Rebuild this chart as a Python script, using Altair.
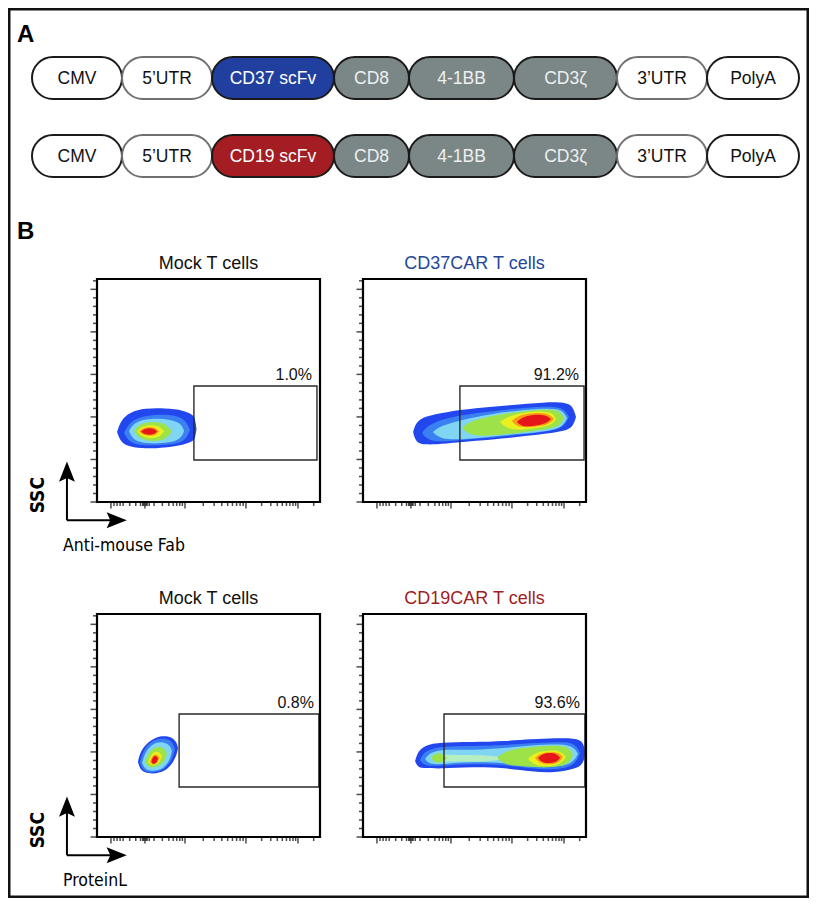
import altair as alt
import pandas as pd

FONT = "Liberation Sans"
NARROW = "Liberation Sans Narrow, DejaVu Sans Condensed, sans-serif"

# ---------------- Panel A : CAR constructs ----------------
CONSTRUCTS = ["CD37", "CD19"]
SEG_LABELS = {
    "CD37": ["CMV", "5’UTR", "CD37 scFv", "CD8", "4-1BB", "CD3ζ", "3’UTR", "PolyA"],
    "CD19": ["CMV", "5’UTR", "CD19 scFv", "CD8", "4-1BB", "CD3ζ", "3’UTR", "PolyA"],
}
SEG_KINDS = {
    "CD37": ["element", "utr", "cd37", "domain", "domain", "domain", "utr", "element"],
    "CD19": ["element", "utr", "cd19", "domain", "domain", "domain", "utr", "element"],
}
SEG_LENGTHS = [90, 90, 122, 75, 105, 103, 90, 92]

KIND_DOMAIN = ["element", "utr", "cd37", "cd19", "domain"]
KIND_FILL = ["#ffffff", "#ffffff", "#213f9e", "#a31d23", "#7b8686"]
KIND_STROKE = ["#1a1a1a", "#707070", "#1a1a1a", "#1a1a1a", "#1a1a1a"]
KIND_TEXT = ["#111111", "#111111", "#ffffff", "#ffffff", "#eef0f0"]

# ---------------- Panel B : flow plots ----------------
X_MAJOR = [64, 220, 404, 684, 923]
X_MINOR = [78, 92, 106, 120, 150, 178, 200, 210, 215, 225, 230, 240, 262, 300, 330,
           350, 366, 380, 392, 488, 538, 573, 600, 622, 641, 657, 671, 756, 798, 828,
           851, 870, 886, 900, 912, 995]
Y_MAJOR = [0, 50, 100, 150, 200, 250]
Y_MINOR = [10, 20, 30, 40, 60, 70, 80, 90, 110, 120, 130, 140, 160, 170, 180, 190,
           210, 220, 230, 240, 260]

LEVEL_ORDER = ["L1", "L2", "L3", "L3b", "L4", "L4r", "L5", "L6", "L7"]
LEVEL_COLORS = {"L1": "#2247ee", "L2": "#3a80f2", "L3": "#7fd5f2", "L3b": "#b5eec0",
                "L4": "#9ee24a", "L4r": "#9ee24a", "L5": "#eaf01e", "L6": "#fb9a16",
                "L7": "#e5161a"}

# density contour bands: (channel, SSC-low [K], SSC-high [K])
BLOB_MOCK_FAB = {
    "L1": [(92, 82.3, 82.3), (110, 69.5, 96.2), (152, 64.8, 105.6), (220, 62.5, 110.3),
           (312, 63.7, 110.3), (400, 67.2, 108.0), (441, 71.9, 102.1), (450, 74.2, 98.6),
           (457, 85.8, 85.8)],
    "L2": [(124, 81.1, 81.1), (152, 68.4, 95.0), (220, 66.0, 102.1), (335, 67.2, 103.3),
           (404, 70.7, 98.6), (427, 84.6, 84.6)],
    "L3": [(147, 83.5, 83.5), (170, 70.7, 93.9), (243, 68.4, 98.6), (335, 69.5, 97.4),
           (386, 74.2, 92.7), (400, 83.5, 83.5)],
    "L4": [(170, 83.5, 83.5), (193, 74.2, 91.5), (253, 70.7, 95.0), (317, 73.0, 92.7),
           (344, 82.9, 82.9)],
    "L5": [(184, 82.9, 82.9), (207, 76.6, 89.2), (248, 74.2, 90.9), (289, 76.6, 89.2),
           (308, 82.9, 82.9)],
    "L6": [(193, 82.9, 82.9), (211, 78.5, 87.3), (243, 77.5, 88.3), (271, 78.5, 87.3),
           (285, 82.9, 82.9)],
    "L7": [(202, 82.9, 82.9), (220, 79.5, 86.3), (243, 79.0, 86.8), (262, 79.5, 86.3),
           (276, 82.9, 82.9)],
}
BLOB_CD37 = {
    "L1": [(230, 82.3, 82.3), (243, 69.5, 93.9), (285, 67.2, 100.9), (377, 68.4, 105.6),
           (514, 71.9, 110.3), (675, 75.4, 113.8), (836, 80.1, 117.4), (928, 83.6, 117.4),
           (964, 88.3, 112.7), (978, 99.9, 99.9)],
    "L2": [(271, 81.1, 81.1), (298, 71.9, 90.3), (377, 70.7, 98.6), (514, 74.2, 104.4),
           (675, 77.8, 109.1), (836, 82.5, 112.7), (918, 86.0, 111.5), (946, 99.9, 99.9)],
    "L3": [(321, 82.3, 82.3), (354, 74.2, 89.2), (445, 73.1, 96.2), (583, 76.6, 103.3),
           (721, 80.1, 108.0), (859, 83.6, 110.3), (918, 88.3, 108.0), (937, 98.7, 98.7)],
    "L4": [(455, 87.0, 87.0), (491, 77.8, 95.0), (583, 77.8, 100.9), (721, 81.3, 106.8),
           (859, 86.0, 109.1), (905, 89.5, 106.8), (923, 98.7, 98.7)],
    "L5": [(629, 94.0, 94.0), (666, 84.8, 100.9), (744, 84.8, 105.6), (836, 88.3, 106.8),
           (872, 91.9, 104.4), (886, 97.6, 97.6)],
    "L6": [(684, 95.2, 95.2), (712, 87.2, 102.1), (790, 88.3, 105.0), (850, 90.7, 104.4),
           (877, 97.6, 97.6)],
    "L7": [(707, 94.0, 94.0), (730, 88.3, 99.7), (790, 89.5, 103.3), (840, 91.9, 102.1),
           (863, 97.6, 97.6)],
}
BLOB_MOCK_PL = {
    "L1": [(188, 88.2, 88.2), (197, 80.1, 98.6), (220, 75.4, 108.0), (253, 74.2, 115.0),
           (289, 75.4, 118.6), (326, 80.1, 118.6), (354, 89.5, 115.0), (367, 97.7, 110.3),
           (372, 104.6, 104.6)],
    "L2": [(197, 87.6, 87.6), (211, 77.8, 100.9), (243, 75.4, 111.5), (280, 76.6, 115.6),
           (317, 81.3, 115.6), (344, 90.7, 112.7), (358, 103.4, 103.4)],
    "L3": [(207, 87.0, 87.0), (220, 80.1, 98.6), (243, 77.8, 106.8), (276, 77.8, 111.5),
           (308, 81.3, 111.5), (335, 90.7, 108.0), (344, 101.1, 101.1)],
    "L4": [(220, 88.2, 88.2), (234, 82.5, 98.6), (257, 81.3, 104.4), (289, 83.6, 106.8),
           (312, 89.5, 103.3), (321, 97.6, 97.6)],
    "L5": [(234, 88.2, 88.2), (248, 83.6, 97.4), (271, 84.8, 100.9), (289, 88.3, 99.7),
           (298, 95.2, 95.2)],
    "L6": [(243, 88.2, 88.2), (253, 84.8, 95.0), (266, 85.4, 97.4), (280, 88.3, 96.2),
           (287, 92.9, 92.9)],
    "L7": [(250, 88.8, 88.8), (257, 85.4, 93.9), (266, 86.0, 95.6), (276, 88.3, 94.5),
           (280, 91.7, 91.7)],
}
BLOB_CD19 = {
    "L1": [(239, 89.3, 89.3), (253, 81.3, 100.9), (285, 81.3, 108.0), (354, 80.1, 111.5),
           (501, 82.5, 111.5), (652, 81.3, 112.7), (776, 76.6, 115.0), (882, 75.4, 116.2),
           (974, 80.1, 116.2), (1010, 84.8, 112.7), (1022, 98.7, 98.7)],
    "L2": [(262, 90.5, 90.5), (280, 83.6, 100.9), (354, 83.6, 106.8), (501, 86.0, 106.8),
           (652, 84.8, 108.0), (776, 80.1, 110.3), (882, 78.9, 111.5), (974, 83.6, 111.5),
           (996, 98.7, 98.7)],
    "L3": [(285, 91.7, 91.7), (308, 84.8, 99.7), (377, 86.0, 103.3), (501, 88.3, 102.1),
           (652, 87.2, 104.4), (776, 83.6, 108.0), (882, 82.5, 109.1), (964, 86.0, 108.0),
           (987, 97.6, 97.6)],
    "L3b": [(308, 92.9, 92.9), (340, 88.3, 97.4), (445, 88.9, 96.2), (583, 88.3, 96.2),
            (675, 92.9, 92.9)],
    "L4": [(312, 92.9, 92.9), (331, 87.2, 98.6), (363, 87.2, 98.6), (386, 92.9, 92.9)],
    "L4r": [(615, 92.9, 92.9), (652, 84.8, 100.9), (721, 83.6, 104.4), (813, 81.3, 106.8),
            (905, 82.5, 108.0), (951, 87.2, 104.4), (964, 96.4, 96.4)],
    "L5": [(758, 91.7, 91.7), (790, 83.6, 99.7), (859, 82.5, 102.1), (909, 86.0, 100.9),
           (932, 94.0, 94.0)],
    "L6": [(790, 92.9, 92.9), (813, 86.0, 98.6), (868, 84.8, 100.3), (905, 88.3, 98.6),
           (918, 94.0, 94.0)],
    "L7": [(804, 92.9, 92.9), (822, 87.2, 97.4), (859, 86.6, 99.2), (891, 88.3, 97.4),
           (905, 92.9, 92.9)],
}

# gates: (x1, x2, SSC low, SSC high)
GATE_MOCK_FAB = (445, 1010, 49.4, 136.4)
GATE_CD37 = (445, 1015, 49.4, 136.4)
GATE_MOCK_PL = (377, 1019, 58.8, 144.6)
GATE_CD19 = (372, 1019, 58.8, 144.6)

PANELS = [
    dict(title="Mock T cells", tkind="mock", blob=BLOB_MOCK_FAB, gate=GATE_MOCK_FAB,
         pct="1.0%", col=0, row=0, xlabel="Anti-mouse Fab"),
    dict(title="CD37CAR T cells", tkind="cd37", blob=BLOB_CD37, gate=GATE_CD37,
         pct="91.2%", col=1, row=0, xlabel=None),
    dict(title="Mock T cells", tkind="mock", blob=BLOB_MOCK_PL, gate=GATE_MOCK_PL,
         pct="0.8%", col=0, row=1, xlabel="ProteinL"),
    dict(title="CD19CAR T cells", tkind="cd19", blob=BLOB_CD19, gate=GATE_CD19,
         pct="93.6%", col=1, row=1, xlabel=None),
]

# ---------------- layout / style ----------------
COL_X = [[89, 312], [355, 578]]
ROW_Y = [[494, 271], [829, 606]]
TITLE_COLORS = {"mock": "#111111", "cd37": "#24479c", "cd19": "#a11d24"}
UP_PATH = "M0,-1L0.75,0.9L0,0.55L-0.75,0.9Z"
RIGHT_PATH = "M1,0L-0.9,0.75L-0.55,0L-0.9,-0.75Z"


def panel_a():
    rows = []
    for c in CONSTRUCTS:
        start = 0
        for lab, kind, ln in zip(SEG_LABELS[c], SEG_KINDS[c], SEG_LENGTHS):
            rows.append(dict(construct=c, label=lab, kind=kind, start=start,
                             end=start + ln, mid=start + ln / 2))
            start += ln
    df = pd.DataFrame(rows)
    xa = alt.Scale(domain=[0, sum(SEG_LENGTHS)], range=[24, 791], nice=False, zero=False)
    ya = alt.Scale(domain=CONSTRUCTS, range=[49, 169], paddingInner=0.4615, paddingOuter=0)
    pills = alt.Chart(df).mark_rect(cornerRadius=21, strokeWidth=2).encode(
        x=alt.X("start:Q", scale=xa, axis=None), x2="end:Q",
        y=alt.Y("construct:N", scale=ya, axis=None),
        fill=alt.Fill("kind:N", scale=alt.Scale(domain=KIND_DOMAIN, range=KIND_FILL), legend=None),
        stroke=alt.Stroke("kind:N", scale=alt.Scale(domain=KIND_DOMAIN, range=KIND_STROKE), legend=None),
    )
    labels = alt.Chart(df).mark_text(fontSize=17.5, font=FONT, baseline="middle", dy=1).encode(
        x=alt.X("mid:Q", scale=xa, axis=None),
        y=alt.Y("construct:N", scale=ya, axis=None),
        text="label:N",
        color=alt.Color("kind:N", scale=alt.Scale(domain=KIND_DOMAIN, range=KIND_TEXT), legend=None),
    )
    return alt.layer(pills, labels)


def flow_panel(p):
    xs = alt.Scale(domain=[0, 1024], range=COL_X[p["col"]], nice=False, zero=False)
    ys = alt.Scale(domain=[0, 262.144], range=ROW_Y[p["row"]], nice=False, zero=False)

    def X(f):
        return alt.X(f, type="quantitative", scale=xs, axis=None)

    def Y(f):
        return alt.Y(f, type="quantitative", scale=ys, axis=None)

    layers = []
    for lvl in LEVEL_ORDER:
        if lvl in p["blob"]:
            df = pd.DataFrame(p["blob"][lvl], columns=["x", "lo", "hi"])
            layers.append(
                alt.Chart(df).mark_area(interpolate="basis", color=LEVEL_COLORS[lvl], opacity=1)
                .encode(x=X("x"), y=Y("lo"), y2="hi")
            )
    g = p["gate"]
    gate_df = pd.DataFrame([dict(x1=g[0], x2=g[1], y1=g[2], y2=g[3], label=p["pct"])])
    layers.append(alt.Chart(gate_df).mark_rect(fillOpacity=0, stroke="#2a2a2a", strokeWidth=1.4)
                  .encode(x=X("x1"), x2="x2", y=Y("y1"), y2="y2"))
    layers.append(alt.Chart(gate_df).mark_text(align="right", baseline="alphabetic", dx=-5, dy=-6,
                                               fontSize=16, font=FONT, color="#111111")
                  .encode(x=X("x2"), y=Y("y2"), text="label"))
    frame_df = pd.DataFrame([dict(x1=0, x2=1024, y1=0, y2=262.144)])
    layers.append(alt.Chart(frame_df).mark_rect(fillOpacity=0, stroke="#000000", strokeWidth=2.2)
                  .encode(x=X("x1"), x2="x2", y=Y("y1"), y2="y2"))
    for vals, ln in [(X_MAJOR, 6.5), (X_MINOR, 4)]:
        layers.append(alt.Chart(pd.DataFrame({"v": vals, "base": 0}))
                      .mark_tick(orient="vertical", size=ln, thickness=1.5, yOffset=ln / 2, color="#000000")
                      .encode(x=X("v"), y=Y("base")))
    for vals, ln in [(Y_MAJOR, 6.5), (Y_MINOR, 4)]:
        layers.append(alt.Chart(pd.DataFrame({"v": vals, "base": 0}))
                      .mark_tick(orient="horizontal", size=ln, thickness=1.5, xOffset=-ln / 2, color="#000000")
                      .encode(x=X("base"), y=Y("v")))
    t_df = pd.DataFrame([dict(x=512, y=262.144, t=p["title"])])
    layers.append(alt.Chart(t_df).mark_text(baseline="alphabetic", dy=-10, fontSize=18, font=FONT,
                                            color=TITLE_COLORS[p["tkind"]])
                  .encode(x=X("x"), y=Y("y"), text="t"))
    if p["xlabel"]:
        lines = pd.DataFrame([dict(x1=-138, y1=-21.5, x2=-138, y2=36),
                              dict(x1=-138, y1=-21.5, x2=105, y2=-21.5)])
        layers.append(alt.Chart(lines).mark_rule(strokeWidth=2, color="#000000")
                      .encode(x=X("x1"), y=Y("y1"), x2="x2", y2="y2"))
        layers.append(alt.Chart(pd.DataFrame([dict(x=-138, y=35)]))
                      .mark_point(shape=UP_PATH, size=450, filled=True, opacity=1, color="#000000")
                      .encode(x=X("x"), y=Y("y")))
        layers.append(alt.Chart(pd.DataFrame([dict(x=88, y=-21.5)]))
                      .mark_point(shape=RIGHT_PATH, size=450, filled=True, opacity=1, color="#000000")
                      .encode(x=X("x"), y=Y("y")))
        layers.append(alt.Chart(pd.DataFrame([dict(x=-271, y=8, t="SSC")]))
                      .mark_text(angle=270, fontSize=19, font=NARROW, align="center", baseline="middle",
                                 fontWeight="bold", color="#000000")
                      .encode(x=X("x"), y=Y("y"), text="t"))
        layers.append(alt.Chart(pd.DataFrame([dict(x=-156, y=-57.6, t=p["xlabel"])]))
                      .mark_text(fontSize=17.5, font=NARROW, align="left", baseline="alphabetic",
                                 color="#000000")
                      .encode(x=X("x"), y=Y("y"), text="t"))
    return alt.layer(*layers)


label_a = alt.Chart(pd.DataFrame({"t": ["A"]})).mark_text(
    fontSize=24, fontWeight="bold", font=FONT, align="left", baseline="alphabetic", color="#000000"
).encode(text="t", x=alt.value(9), y=alt.value(34))
label_b = alt.Chart(pd.DataFrame({"t": ["B"]})).mark_text(
    fontSize=24, fontWeight="bold", font=FONT, align="left", baseline="alphabetic", color="#000000"
).encode(text="t", x=alt.value(9), y=alt.value(231))

chart = (
    alt.layer(panel_a(), *[flow_panel(p) for p in PANELS], label_a, label_b)
    .resolve_scale(x="independent", y="independent")
    .properties(width=801, height=890, padding=0, autosize=alt.AutoSizeParams(type="none"))
    .configure(font=FONT)
    .configure_view(stroke="#111111", strokeWidth=5)
)

chart.save("out.html", embed_options={"renderer": "svg", "actions": False})
